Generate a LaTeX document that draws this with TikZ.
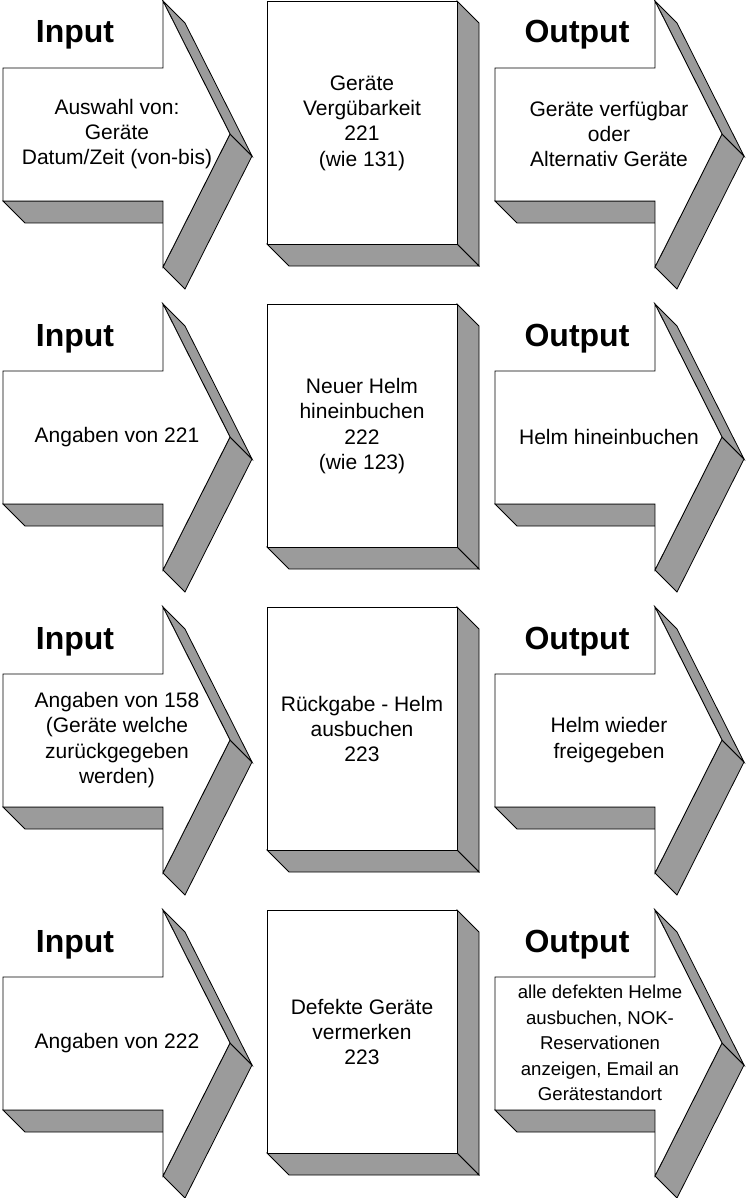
\documentclass[tikz,border=0pt]{standalone}
\usepackage{fontspec}
\setmainfont{Liberation Sans}
\definecolor{sidegray}{RGB}{155,155,155}
\tikzset{
  face/.style={draw=black, line width=0.8pt, line join=miter},
  sideface/.style={face, fill=sidegray},
  frontface/.style={face, fill=white},
  headtxt/.style={font=\fontsize{32}{38}\selectfont\bfseries, anchor=base, inner sep=0pt},
  bodytxt/.style={font=\fontsize{21}{25.3}\selectfont, align=center, inner sep=0pt},
  smalltxt/.style={font=\fontsize{18.6}{25.4}\selectfont, align=center, inner sep=0pt},
}
% 3D block arrow, shifted by (#1,#2)
\newcommand{\threedarrow}[2]{%
  \begin{scope}[shift={(#1,#2)}]
    \draw[sideface] (3,200) -- (163,200) -- (185,222) -- (25,222) -- cycle;
    \draw[sideface] (230,133) -- (163,266) -- (185,288) -- (252,155) -- cycle;
    \draw[sideface] (163,0) -- (230,133) -- (252,155) -- (185,22) -- cycle;
    \draw[frontface] (3,67) -- (163,67) -- (163,0) -- (230,133) -- (163,266) -- (163,200) -- (3,200) -- cycle;
  \end{scope}}
% 3D box, shifted vertically by #1
\newcommand{\threedbox}[1]{%
  \begin{scope}[shift={(0,#1)}]
    \draw[sideface] (457,0) -- (479,22) -- (479,265) -- (457,243) -- cycle;
    \draw[sideface] (267,243) -- (457,243) -- (479,265) -- (289,265) -- cycle;
    \draw[frontface] (267,0) rectangle (457,243);
  \end{scope}}
\begin{document}
\begin{tikzpicture}[x=1pt, y=-1pt]
\useasboundingbox (0,0) rectangle (745,1198);

% ---------- Row 1 ----------
\threedarrow{0}{1}
\threedbox{1}
\threedarrow{492}{1}
\begin{scope}[shift={(0,1)}]
  \node[headtxt] (in1) at (75,42) {Input};
  \node[headtxt] (out1) at (577,42) {Output};
  \node[bodytxt] (inp1) at (117,133) {Auswahl von:\\Geräte\\Datum/Zeit (von-bis)};
  \node[bodytxt] (proc1) at (362,122) {Geräte\\Vergübarkeit\\221\\(wie 131)};
  \node[bodytxt] (outp1) at (609,133) {Geräte verfügbar\\oder\\Alternativ Geräte};
\end{scope}

% ---------- Row 2 ----------
\threedarrow{0}{304}
\threedbox{304}
\threedarrow{492}{304}
\begin{scope}[shift={(0,304)}]
  \node[headtxt] (in2) at (75,42) {Input};
  \node[headtxt] (out2) at (577,42) {Output};
  \node[bodytxt] (inp2) at (117,133) {Angaben von 221};
  \node[bodytxt] (proc2) at (362,122) {Neuer Helm\\hineinbuchen\\222\\(wie 123)};
  \node[bodytxt] (outp2) at (609,133) {Helm hineinbuchen};
\end{scope}

% ---------- Row 3 ----------
\threedarrow{0}{607}
\threedbox{607}
\threedarrow{492}{607}
\begin{scope}[shift={(0,607)}]
  \node[headtxt] (in3) at (75,42) {Input};
  \node[headtxt] (out3) at (577,42) {Output};
  \node[bodytxt] (inp3) at (117,133) {Angaben von 158\\(Geräte welche\\zurückgegeben\\werden)};
  \node[bodytxt] (proc3) at (362,122) {Rückgabe - Helm\\ausbuchen\\223};
  \node[bodytxt] (outp3) at (609,133) {Helm wieder\\freigegeben};
\end{scope}

% ---------- Row 4 ----------
\threedarrow{0}{910}
\threedbox{910}
\threedarrow{492}{910}
\begin{scope}[shift={(0,910)}]
  \node[headtxt] (in4) at (75,42) {Input};
  \node[headtxt] (out4) at (577,42) {Output};
  \node[bodytxt] (inp4) at (117,133) {Angaben von 222};
  \node[bodytxt] (proc4) at (362,122) {Defekte Geräte\\vermerken\\223};
  \node[smalltxt] (outp4) at (600,133) {alle defekten Helme\\ausbuchen, NOK-\\Reservationen\\anzeigen, Email an\\Gerätestandort};
\end{scope}
\end{tikzpicture}
\end{document}
